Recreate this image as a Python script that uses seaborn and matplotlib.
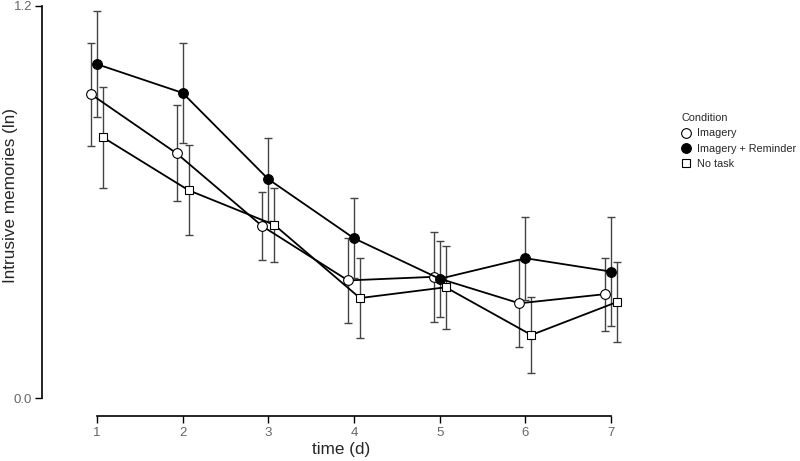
import numpy as np
import pandas as pd
import seaborn as sns
from matplotlib import pyplot as plt
from matplotlib.lines import Line2D

days = [1, 2, 3, 4, 5, 6, 7]
conditions = ['Imagery', 'Imagery + Reminder', 'No task']

imagery_mean = [0.930, 0.749, 0.526, 0.360, 0.371, 0.290, 0.318]
imagery_err = [0.158, 0.147, 0.104, 0.130, 0.137, 0.133, 0.112]
reminder_mean = [1.022, 0.934, 0.670, 0.489, 0.365, 0.428, 0.387]
reminder_err = [0.163, 0.153, 0.127, 0.122, 0.117, 0.127, 0.166]
notask_mean = [0.798, 0.636, 0.530, 0.306, 0.339, 0.193, 0.294]
notask_err = [0.155, 0.138, 0.114, 0.122, 0.127, 0.116, 0.121]

df = pd.DataFrame({
    'day': days * 3,
    'condition': np.repeat(conditions, len(days)),
    'mean': imagery_mean + reminder_mean + notask_mean,
    'err': imagery_err + reminder_err + notask_err,
})

# small horizontal dodge so the error bars don't overlap
dodge = {'Imagery': -0.07, 'Imagery + Reminder': 0.0, 'No task': 0.07}
marker = {'Imagery': 'o', 'Imagery + Reminder': 'o', 'No task': 's'}
face = {'Imagery': 'white', 'Imagery + Reminder': 'black', 'No task': 'white'}
msize = {'Imagery': 7, 'Imagery + Reminder': 7, 'No task': 6.3}
df['x'] = df['day'] + df['condition'].map(dodge)

sns.set_style('ticks')
plt.rcParams['font.family'] = ['Liberation Sans', 'DejaVu Sans']

fig = plt.figure(figsize=(8, 4.61), dpi=100)
ax = fig.add_axes([42 / 800, 1 - 416 / 461, 598 / 800, 410 / 461])

for cond in conditions:
    sub = df[df['condition'] == cond]
    ax.errorbar(sub['x'], sub['mean'], yerr=sub['err'], fmt='none',
                ecolor='#444444', elinewidth=1.0, capsize=3, capthick=1.0,
                zorder=1, clip_on=False)
    sns.lineplot(data=sub, x='x', y='mean', ax=ax, color='black', lw=1.3,
                 marker=marker[cond], markersize=msize[cond],
                 markerfacecolor=face[cond], markeredgecolor='black',
                 markeredgewidth=0.8, zorder=3, clip_on=False)

ax.set_xlim(1 - 55 / 85.8, 7 + 29 / 85.8)
ax.set_ylim(-0.055, 1.2)
ax.set_xticks(days)
ax.set_yticks([0.0, 1.2])
ax.set_yticklabels(['0.0', '1.2'])
ax.spines['top'].set_visible(False)
ax.spines['right'].set_visible(False)
ax.spines['left'].set_bounds(0, 1.2)
ax.spines['bottom'].set_bounds(1, 7)
for s in ['left', 'bottom']:
    ax.spines[s].set_linewidth(1.2)
    ax.spines[s].set_color('black')
ax.tick_params(axis='both', length=5, width=1.0, color='black',
               labelsize=9.5, labelcolor='#666666', pad=2)
ax.tick_params(axis='x', pad=3)

ax.set_xlabel('time (d)', fontsize=12.3, labelpad=2)
ax.set_ylabel('Intrusive memories (ln)', fontsize=12.3)
ax.yaxis.set_label_coords(-0.040, 0.537)

handles = [Line2D([], [], ls='none', marker=marker[c], markersize=msize[c],
                  markerfacecolor=face[c], markeredgecolor='black',
                  markeredgewidth=0.8) for c in conditions]
leg = fig.legend(handles, conditions, title='Condition', loc='upper left',
                 bbox_to_anchor=(681 / 800, 1 - 113 / 461), frameon=False,
                 fontsize=7.8, title_fontsize=7.8, handletextpad=0.45,
                 handlelength=1.0, labelspacing=0.5, borderpad=0,
                 borderaxespad=0)
leg._legend_box.align = 'left'

fig.savefig('out.png', dpi=100)
